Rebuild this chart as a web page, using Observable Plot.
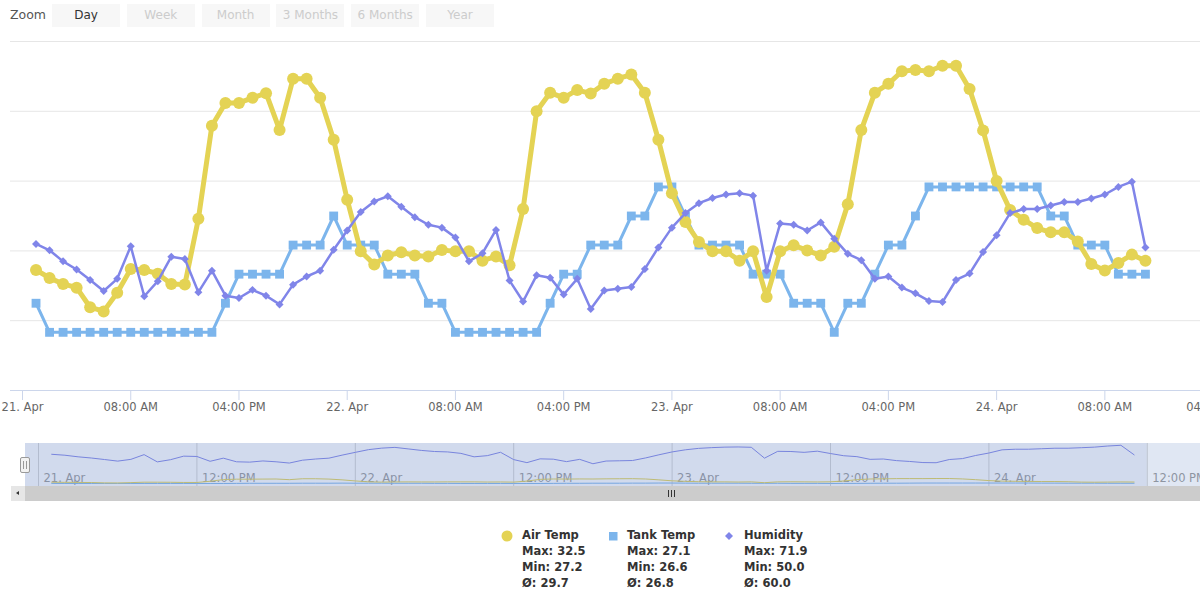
<!DOCTYPE html>
<html>
<head>
<meta charset="utf-8">
<script src="https://cdn.jsdelivr.net/npm/d3@7"></script>
<script src="https://cdn.jsdelivr.net/npm/@observablehq/plot@0.6"></script>
<style>
  body { margin: 0; background: #fff; font-family: "DejaVu Sans", sans-serif; }
  #wrap { position: relative; width: 1200px; height: 605px; overflow: hidden; background: #fff; }
  .abs { position: absolute; }
  .zlabel { left: 10px; top: 6px; font-size: 12.5px; color: #555; line-height: 18px; }
  .zbtn { top: 4px; width: 68px; height: 23px; background: #f7f7f7; font-size: 12px; line-height: 23px; text-align: center; color: #cccccc; }
  .zbtn.on { color: #333; }
  .legtxt { font-size: 11.5px; font-weight: bold; color: #333; line-height: 16px; white-space: pre; }
</style>
</head>
<body>
<div id="wrap"></div>
<script>
// ---------------- data ----------------
const hours = [1,2,3,4,5,6,7,8,9,10,11,12,13,14,15,16,17,18,19,20,21,22,23,24,25,26,27,28,29,30,
  31,32,33,34,35,36,37,38,39,40,41,42,43,44,45,46,47,48,49,50,51,52,53,54,55,56,57,58,59,60,
  61,62,63,64,65,66,67,68,69,70,71,72,73,74,75,76,77,78,79,80,81,82,83];
const airTemp = [28.09,27.92,27.79,27.71,27.29,27.20,27.60,28.11,28.09,28.01,
  27.79,27.78,29.19,31.19,31.68,31.68,31.79,31.89,31.10,32.20,
  32.20,31.79,30.89,29.60,28.49,28.21,28.40,28.47,28.40,28.38,
  28.52,28.49,28.49,28.29,28.38,28.19,29.40,31.50,31.90,31.79,
  31.96,31.88,32.09,32.20,32.29,31.90,30.89,29.74,29.12,28.69,
  28.49,28.49,28.29,28.49,27.51,28.49,28.62,28.51,28.40,28.59,
  29.50,31.10,31.90,32.09,32.36,32.39,32.36,32.48,32.48,31.98,
  31.09,30.00,29.38,29.17,28.99,28.90,28.90,28.70,28.22,28.08,
  28.24,28.42,28.29];
const tankTemp = [26.7,26.6,26.6,26.6,26.6,26.6,26.6,26.6,26.6,26.6,
  26.6,26.6,26.6,26.6,26.7,26.8,26.8,26.8,26.8,26.9,
  26.9,26.9,27.0,26.9,26.9,26.9,26.8,26.8,26.8,26.7,
  26.7,26.6,26.6,26.6,26.6,26.6,26.6,26.6,26.7,26.8,
  26.8,26.9,26.9,26.9,27.0,27.0,27.1,27.1,27.0,26.9,
  26.9,26.9,26.9,26.8,26.8,26.8,26.7,26.7,26.7,26.6,
  26.7,26.7,26.8,26.9,26.9,27.0,27.1,27.1,27.1,27.1,
  27.1,27.1,27.1,27.1,27.1,27.0,27.0,26.9,26.9,26.9,
  26.8,26.8,26.8];
const humidity = [61.2,60.1,58.2,56.8,55.0,53.1,55.2,60.8,52.2,54.8,
  59.0,58.6,52.9,56.6,52.3,51.9,53.3,52.3,50.8,54.2,
  55.6,56.6,60.2,63.5,66.7,68.5,69.4,67.6,65.8,64.5,
  64.0,62.3,58.2,59.6,63.6,54.9,51.3,55.8,55.4,52.5,
  55.2,50.0,53.2,53.5,53.8,56.9,60.6,64.0,66.5,68.2,
  69.1,69.7,69.9,69.5,56.6,64.7,64.5,63.5,64.9,62.1,
  59.5,58.4,55.2,55.6,53.7,52.7,51.4,51.2,55.0,56.1,
  59.8,62.7,66.5,67.2,67.2,67.8,68.4,68.4,69.0,69.7,
  71.0,71.9,60.6];

const xTickHours = [0,8,16,24,32,40,48,56,64,72,80,88];
const xTickLabels = ["21. Apr","08:00 AM","04:00 PM","22. Apr","08:00 AM","04:00 PM",
  "23. Apr","08:00 AM","04:00 PM","24. Apr","08:00 AM","04:00 PM"];
const navTickHours = [0,12,24,36,48,60,72,84];
const navTickLabels = ["21. Apr","12:00 PM","22. Apr","12:00 PM","23. Apr","12:00 PM","24. Apr","12:00 PM"];
const gridAir = [27,28.5,30,31.5,33];

const seriesNames = ["Air Temp","Tank Temp","Humidity"];
const seriesColors = ["#e4d354","#7cb5ec","#8085e9"];
const statMax = ["32.5","27.1","71.9"];
const statMin = ["27.2","26.6","50.0"];
const statAvg = ["29.7","26.8","60.0"];
const zoomButtons = ["Day","Week","Month","3 Months","6 Months","Year"];

// ---------------- helpers ----------------
const T = h => new Date(Date.UTC(2019, 3, 21) + h * 3600000);
const rows = hours.map((h, i) => ({t: T(h), air: airTemp[i], tank: tankTemp[i], hum: humidity[i]}));
// secondary axes mapped into the air-temperature scale
const tankToY = d3.scaleLinear([26.4, 27.6], [25.5, 33]);
const humToY = d3.scaleLinear([36, 96], [25.5, 33]);
const xTicks = xTickHours.map((h, i) => ({t: T(h), label: xTickLabels[i]}));
const yBase = 25.5;
const tickLen = 10 * 7.5 / 349; // 10px in y units

const wrap = document.getElementById("wrap");

// ---------------- main chart ----------------
const main = Plot.plot({
  width: 1200, height: 420,
  marginTop: 41, marginBottom: 30, marginLeft: 10, marginRight: 0,
  x: {type: "utc", domain: [T(-0.887), T(87.07)], axis: null},
  y: {domain: [25.5, 33], axis: null},
  style: {fontFamily: "DejaVu Sans", fontSize: "11.5px", background: "transparent"},
  marks: [
    Plot.ruleY(gridAir, {stroke: "#e6e6e6", strokeWidth: 1}),
    Plot.ruleY([yBase], {stroke: "#ccd6eb", strokeWidth: 1}),
    Plot.ruleX(xTicks, {x: "t", y1: yBase, y2: yBase - tickLen, stroke: "#ccd6eb"}),
    Plot.text(xTicks, {x: "t", y: yBase, text: "label", dy: 17, lineAnchor: "middle", textAnchor: "middle", fill: "#666", fontSize: 11.5}),
    Plot.line(rows, {x: "t", y: d => tankToY(d.tank), stroke: seriesColors[1], strokeWidth: 3}),
    Plot.dot(rows, {x: "t", y: d => tankToY(d.tank), fill: seriesColors[1], symbol: "square", r: 5}),
    Plot.line(rows, {x: "t", y: "air", stroke: seriesColors[0], strokeWidth: 5}),
    Plot.dot(rows, {x: "t", y: "air", fill: seriesColors[0], r: 6}),
    Plot.line(rows, {x: "t", y: d => humToY(d.hum), stroke: seriesColors[2], strokeWidth: 2.5}),
    Plot.dot(rows, {x: "t", y: d => humToY(d.hum), fill: seriesColors[2], symbol: "diamond2", r: 3.6})
  ]
});
main.style.position = "absolute";
main.style.left = "0px";
main.style.top = "0px";
wrap.appendChild(main);

// ---------------- zoom buttons ----------------
const zl = document.createElement("div");
zl.className = "abs zlabel";
zl.textContent = "Zoom";
wrap.appendChild(zl);
zoomButtons.forEach((b, i) => {
  const el = document.createElement("div");
  el.className = "abs zbtn" + (i === 0 ? " on" : "");
  el.style.left = (52 + i * 74.8) + "px";
  el.textContent = b;
  wrap.appendChild(el);
});

// ---------------- navigator ----------------
const nav = Plot.plot({
  width: 1200, height: 43,
  marginTop: 0, marginBottom: 0, marginLeft: 0, marginRight: 0,
  x: {type: "utc", domain: [T(-2.879), T(88.03)], axis: null},
  y: {domain: [23, 74], axis: null},
  style: {fontFamily: "DejaVu Sans", fontSize: "11.5px", background: "transparent"},
  marks: [
    Plot.ruleX(navTickHours.map(T), {stroke: "#d4d4d4"}),
    Plot.text(navTickHours.map((h, i) => ({t: T(h), label: navTickLabels[i]})),
      {x: "t", text: "label", frameAnchor: "top", dy: 35, dx: 5, textAnchor: "start", lineAnchor: "middle", fill: "#999", fontSize: 11.5}),
    Plot.line(rows, {x: "t", y: "tank", stroke: seriesColors[1], strokeWidth: 1}),
    Plot.line(rows, {x: "t", y: "air", stroke: seriesColors[0], strokeWidth: 1}),
    Plot.line(rows, {x: "t", y: "hum", stroke: seriesColors[2], strokeWidth: 1}),
    Plot.rect([{a: T(-0.985), b: T(84.0)}], {x1: "a", x2: "b", y1: 23, y2: 74, fill: "rgba(102,133,194,0.3)"}),
    Plot.rect([{a: T(84.0), b: T(88.03)}], {x1: "a", x2: "b", y1: 23, y2: 74, fill: "rgba(102,133,194,0.2)"})
  ]
});
nav.style.position = "absolute";
nav.style.left = "0px";
nav.style.top = "443px";
wrap.appendChild(nav);

// navigator handle
const handle = document.createElement("div");
handle.className = "abs";
Object.assign(handle.style, {left: "20px", top: "457px", width: "8px", height: "14px",
  background: "#f2f2f2", border: "1px solid #999", borderRadius: "2px"});
handle.innerHTML = '<div style="position:absolute;left:2px;top:3px;width:1px;height:8px;background:#999"></div>' +
  '<div style="position:absolute;left:5px;top:3px;width:1px;height:8px;background:#999"></div>';
wrap.appendChild(handle);

// scrollbar
const sbBtn = document.createElement("div");
sbBtn.className = "abs";
Object.assign(sbBtn.style, {left: "11px", top: "486px", width: "14px", height: "15px", background: "#e6e6e6"});
sbBtn.innerHTML = '<div style="position:absolute;left:5px;top:5px;width:0;height:0;border-top:2.5px solid transparent;border-bottom:2.5px solid transparent;border-right:3px solid #333"></div>';
wrap.appendChild(sbBtn);
const sbBar = document.createElement("div");
sbBar.className = "abs";
Object.assign(sbBar.style, {left: "25px", top: "486px", width: "1175px", height: "15px", background: "#cccccc"});
sbBar.innerHTML = '<div style="position:absolute;left:643px;top:4px;width:1px;height:7px;background:#333"></div>' +
  '<div style="position:absolute;left:646px;top:4px;width:1px;height:7px;background:#333"></div>' +
  '<div style="position:absolute;left:649px;top:4px;width:1px;height:7px;background:#333"></div>';
wrap.appendChild(sbBar);

// ---------------- legend ----------------
const legX = [507, 612.5, 728.5];
const txtX = [522, 627, 744];
const markers = [
  '<circle cx="7" cy="7" r="5.5" fill="' + seriesColors[0] + '"/>',
  '<rect x="3" y="3" width="8.5" height="8.5" fill="' + seriesColors[1] + '"/>',
  '<path d="M7 3 L11 7 L7 11 L3 7 Z" fill="' + seriesColors[2] + '"/>'
];
seriesNames.forEach((name, i) => {
  const m = document.createElement("div");
  m.className = "abs";
  m.style.left = (legX[i] - 7) + "px";
  m.style.top = (535 - 7) + "px";
  m.innerHTML = '<svg width="14" height="14">' + markers[i] + '</svg>';
  wrap.appendChild(m);
  const t = document.createElement("div");
  t.className = "abs legtxt";
  t.style.left = txtX[i] + "px";
  t.style.top = "527px";
  t.textContent = name + "\nMax: " + statMax[i] + "\nMin: " + statMin[i] + "\nØ: " + statAvg[i];
  wrap.appendChild(t);
});
</script>
</body>
</html>
